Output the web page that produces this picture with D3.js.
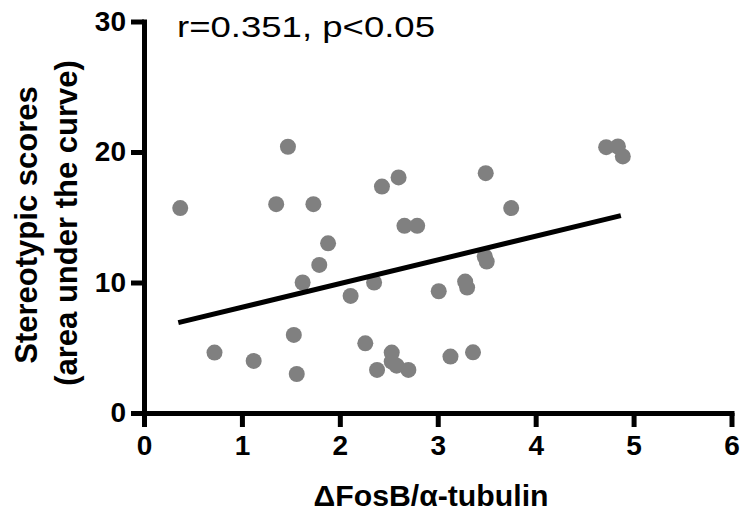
<!DOCTYPE html>
<html>
<head>
<meta charset="utf-8">
<script src="https://cdn.jsdelivr.net/npm/d3@7"></script>
<style>
  body { margin: 0; background: #fff; }
  text { font-family: "Liberation Sans", Arial, sans-serif; }
</style>
</head>
<body>
<div id="scatter_chart"></div>
<script>
// values
const fosb = [0.37, 0.72, 1.12, 1.35, 1.47, 1.53, 1.56, 1.62, 1.73, 1.79, 1.88, 2.11,
  2.26, 2.35, 2.38, 2.43, 2.53, 2.53, 2.58, 2.60, 2.66, 2.70, 2.79, 3.01, 3.13, 3.28,
  3.30, 3.36, 3.48, 3.49, 3.50, 3.75, 4.72, 4.84, 4.89];
const scores = [15.7, 4.63, 3.99, 16.0, 20.4, 5.98, 2.99, 10.0, 16.0, 11.35, 13.0, 8.97,
  5.34, 10.0, 3.30, 17.35, 4.63, 3.94, 3.63, 18.05, 14.34, 3.30, 14.34, 9.33, 4.32, 10.07,
  9.61, 4.65, 11.99, 18.38, 11.6, 15.70, 20.37, 20.42, 19.66];

// fitted line
const fitRange = [0.35, 4.87];
const fitSlope = 1.814;
const fitIntercept = 6.29;

const xTicks = [0, 1, 2, 3, 4, 5, 6];
const yTicks = [0, 10, 20, 30];
const annotation = "r=0.351, p<0.05";

const width = 747, height = 516;

const svg = d3.select("#scatter_chart")
  .append("svg")
  .attr("width", width)
  .attr("height", height);

const x = d3.scaleLinear().domain([0, 6]).range([144, 731.5]);
const y = d3.scaleLinear().domain([0, 30]).range([413, 21.5]);

// axes
const xAxis = svg.append("g")
  .attr("transform", `translate(0, ${y(0)})`)
  .call(d3.axisBottom(x).tickValues(xTicks).tickFormat(d3.format("d"))
    .tickSize(14).tickSizeOuter(0).tickPadding(8));

const yAxis = svg.append("g")
  .attr("transform", `translate(${x(0)}, 0)`)
  .call(d3.axisLeft(y).tickValues(yTicks).tickFormat(d3.format("d"))
    .tickSize(13).tickSizeOuter(0).tickPadding(5));

[xAxis, yAxis].forEach(function (g) {
  g.select(".domain").attr("stroke", "#000").attr("stroke-width", 5).attr("stroke-linecap", "square");
  g.selectAll(".tick line").attr("stroke", "#000").attr("stroke-width", 5);
  g.selectAll(".tick text")
    .attr("fill", "#000")
    .style("font-size", "28px")
    .style("font-weight", "bold")
    .style("font-family", '"Liberation Sans", Arial, sans-serif');
});

// points
svg.append("g")
  .selectAll("circle")
  .data(fosb.map((d, i) => ({x: d, y: scores[i]})))
  .join("circle")
    .attr("cx", d => x(d.x))
    .attr("cy", d => y(d.y))
    .attr("r", 8)
    .attr("fill", "#808080");

// regression line
svg.append("line")
  .attr("x1", x(fitRange[0]))
  .attr("y1", y(fitIntercept + fitSlope * fitRange[0]))
  .attr("x2", x(fitRange[1]))
  .attr("y2", y(fitIntercept + fitSlope * fitRange[1]))
  .attr("stroke", "#000")
  .attr("stroke-width", 5);

// labels
svg.append("text")
  .attr("x", 177)
  .attr("y", 37)
  .attr("textLength", 258)
  .attr("lengthAdjust", "spacingAndGlyphs")
  .style("font-size", "30px")
  .text(annotation);

svg.append("text")
  .attr("x", 431)
  .attr("y", 506)
  .attr("text-anchor", "middle")
  .attr("textLength", 235)
  .attr("lengthAdjust", "spacingAndGlyphs")
  .style("font-size", "29px")
  .style("font-weight", "bold")
  .text("\u0394FosB/\u03b1-tubulin");

svg.append("text")
  .attr("transform", "translate(37, 225) rotate(-90)")
  .attr("text-anchor", "middle")
  .style("font-size", "31px")
  .style("font-weight", "bold")
  .text("Stereotypic scores");

svg.append("text")
  .attr("transform", "translate(77, 223) rotate(-90)")
  .attr("text-anchor", "middle")
  .style("font-size", "31px")
  .style("font-weight", "bold")
  .text("(area under the curve)");
</script>
</body>
</html>
